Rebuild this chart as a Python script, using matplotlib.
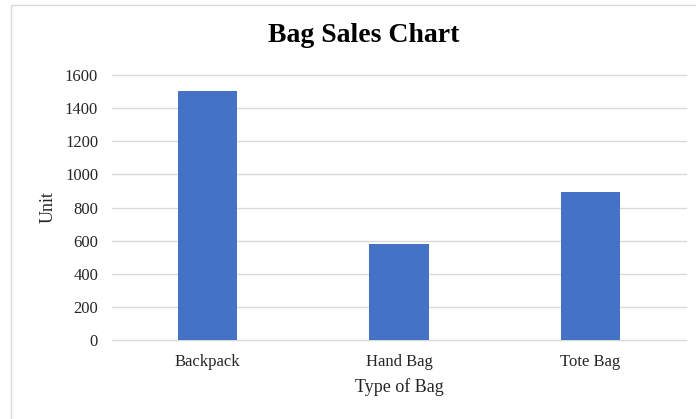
import matplotlib.pyplot as plt
from matplotlib.patches import Rectangle

# data
bags = ['Backpack', 'Hand Bag', 'Tote Bag']
units = [1505, 580, 893]
yticks = [0, 200, 400, 600, 800, 1000, 1200, 1400, 1600]

plt.rcParams['font.family'] = ['Liberation Serif', 'DejaVu Serif']

fig = plt.figure(figsize=(6.96, 4.19), dpi=100)
# chart border like the office chart frame
fig.patches.append(Rectangle((11 / 696, -0.01), 1.0, 1.0 - 5 / 419 + 0.01,
                             transform=fig.transFigure, fill=False,
                             edgecolor='#d9d9d9', linewidth=1))

ax = fig.add_axes([112 / 696, 1 - 340 / 419, 574 / 696, 265 / 419])
ax.bar(range(len(bags)), units, width=0.31, color='#4472c4', zorder=3)

ax.set_xlim(-0.5, 2.5)
ax.set_ylim(0, 1600)
ax.set_yticks(yticks)
ax.set_xticks(range(len(bags)))
ax.set_xticklabels(bags)
ax.grid(axis='y', color='#d9d9d9', linewidth=1, zorder=0)
for gl in ax.get_ygridlines():
    gl.set_clip_on(False)
for s in ax.spines.values():
    s.set_visible(False)
ax.tick_params(length=0, labelsize=12, colors='#262626', pad=10)
ax.tick_params(axis='x', pad=10)

ax.set_xlabel('Type of Bag', fontsize=13, color='#262626', labelpad=6)
ax.set_ylabel('Unit', fontsize=13, color='#262626', labelpad=6)
fig.text(364 / 696, 1 - 36 / 419, 'Bag Sales Chart', ha='center', va='center',
         fontsize=20, fontweight='bold', color='#000000')

fig.savefig('out.png', dpi=100)
